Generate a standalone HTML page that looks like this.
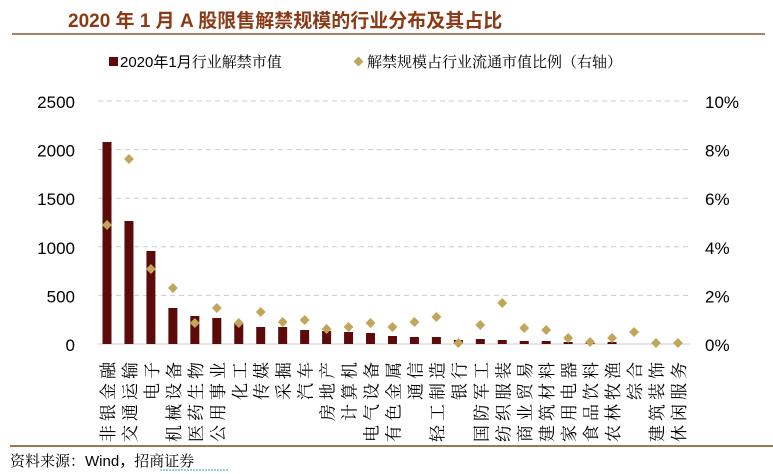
<!DOCTYPE html>
<html><head><meta charset="utf-8"><style>
body{margin:0;background:#fff;width:773px;height:474px;overflow:hidden}
svg{display:block}
text{font-family:"Liberation Sans","Noto Sans CJK SC",sans-serif}
.cj{font-family:"Noto Serif CJK SC","Noto Sans CJK SC",serif}
</style></head><body>
<svg id="s" width="773" height="474" xmlns="http://www.w3.org/2000/svg">
<text x="68" y="27" font-size="19" font-weight="bold" fill="#8a3a14">2020 年 1 月 A 股限售解禁规模的行业分布及其占比</text>
<line x1="12" y1="34" x2="765" y2="34" stroke="#8b5a3c" stroke-width="1.5"/>
<rect x="109" y="57" width="9" height="9" fill="#5c0a0a"/>
<text x="120" y="67" font-size="15" fill="#000">2020年1月<tspan class="cj">行业解禁市值</tspan></text>
<rect x="355" y="58" width="7" height="7" fill="#c0a55a" transform="rotate(45 358.5 61.5)"/>
<text x="367" y="67" font-size="15" class="cj" fill="#000">解禁规模占行业流通市值比例（右轴）</text>
<g id="g"></g>
<line x1="10" y1="446" x2="773" y2="446" stroke="#9a7a4a" stroke-width="2"/>
<text x="10" y="466" font-size="15" fill="#000"><tspan class="cj">资料来源：</tspan>Wind，<tspan class="cj">招商证券</tspan></text>
<line x1="160" y1="470" x2="228" y2="470" stroke="#3aa" stroke-width="1" stroke-dasharray="2,1"/>
</svg>
<script>
var g=document.getElementById('g'),h='';
for(var i=0;i<=5;i++){var y=344-i*48.6;
 if(i>0)h+='<line x1="98" y1="'+y+'" x2="690" y2="'+y+'" stroke="#ccc" stroke-dasharray="5,4"/>';
 h+='<text x="75" y="'+(y+7)+'" font-size="17" text-anchor="end">'+(i*500)+'</text>';
 h+='<text x="705" y="'+(y+7)+'" font-size="17">'+(i*2)+'%</text>';}
h+='<line x1="98" y1="344" x2="690" y2="344" stroke="#ccc"/>';
var n=['非银金融','交通运输','电子','机械设备','医药生物','公用事业','化工','传媒','采掘','汽车','房地产','计算机','电气设备','有色金属','通信','轻工制造','银行','国防军工','纺织服装','商业贸易','建筑材料','家用电器','食品饮料','农林牧渔','综合','建筑装饰','休闲服务'];
var bt=[142,221,251,308,316,318,323,327,327,330,331,332,333,336,337,337,340,339,340,341,341,342,343,342,344,344,344];
var dy=[225,159,269,288,323,308,323,312,322,320,329,327,323,327,322,317,343,325,303,328,330,338,342,338,332,343,343];
for(var i=0;i<27;i++){var cx=107+i*21.96;
 h+='<rect x="'+(cx-4.5)+'" y="'+bt[i]+'" width="9" height="'+(344-bt[i])+'" fill="#5c0a0a"/>';
 h+='<rect x="'+(cx-3.5)+'" y="'+(dy[i]-3.5)+'" width="7" height="7" fill="#c0a55a" transform="rotate(45 '+cx+' '+dy[i]+')"/>';
 var bx=cx+7, by=358;
 h+='<text class="cj" x="'+bx+'" y="'+by+'" font-size="17" letter-spacing="4" text-anchor="end" transform="rotate(-90 '+bx+' '+by+')">'+n[i]+'</text>';
}
g.innerHTML=h;
</script>
</body></html>
